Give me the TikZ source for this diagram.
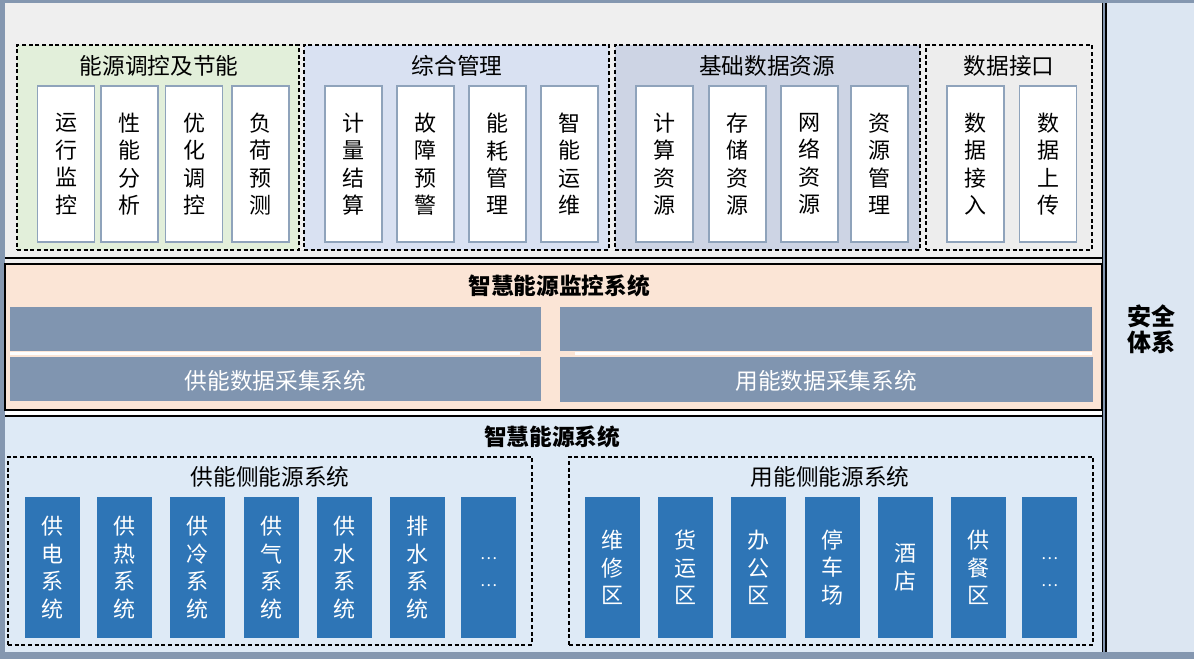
\documentclass[tikz,border=0pt]{standalone}
\usepackage{fontspec}
\setmainfont{Noto Sans CJK SC}
\definecolor{outerc}{HTML}{8497B0}
\definecolor{topbg}{HTML}{EFEFEF}
\definecolor{gA}{HTML}{E2EFDA}
\definecolor{gB}{HTML}{D9E1F2}
\definecolor{gC}{HTML}{CDD4E4}
\definecolor{gD}{HTML}{EDEDED}
\definecolor{wbd}{HTML}{8FA3BB}
\definecolor{peach}{HTML}{FBE5D6}
\definecolor{barc}{HTML}{8095B0}
\definecolor{blueband}{HTML}{DEEAF6}
\definecolor{bbox}{HTML}{2E75B6}
\definecolor{rpanel}{HTML}{DCE6F2}
\tikzset{
  grp/.style={draw=black, line width=0.8pt, dash pattern=on 3pt off 2pt, inner sep=0pt},
  gtitle/.style={font=\fontsize{17pt}{20pt}\selectfont, inner sep=0pt},
  btitle/.style={font=\fontsize{17pt}{20pt}\selectfont\bfseries, inner sep=0pt},
  wbox/.style={draw=wbd, line width=1.2pt, fill=white, minimum width=42.75pt, minimum height=117pt, inner sep=0pt, align=center, font=\fontsize{16.5pt}{20.6pt}\selectfont},
  bbx/.style={fill=bbox, text=white, minimum width=41.25pt, minimum height=105.75pt, inner sep=0pt, align=center, font=\fontsize{16.5pt}{20.6pt}\selectfont},
  dots/.style={text=white, inner sep=0pt, align=center, font=\fontsize{12pt}{20.5pt}\selectfont},
  barlab/.style={text=white, font=\fontsize{17pt}{20pt}\selectfont, inner sep=0pt}
}
\begin{document}
\begin{tikzpicture}[x=0.75pt,y=-0.75pt]
\useasboundingbox (0,0) rectangle (1194,659);
% background
\fill[outerc] (0,0) rectangle (1194,659);
\fill[topbg] (5,3) rectangle (1102,652);
\fill[white] (5,410) rectangle (1102,416);
\fill[rpanel] (1107,3) rectangle (1194,652);
% top panel lower border
\draw[black, line width=1pt] (5,258) -- (1102,258);
% middle band
\draw[black, line width=1pt, fill=peach] (5,264) rectangle (1102,410);
% bottom band
\fill[blueband] (5,416) rectangle (1102,652);
\draw[black, line width=1pt] (5,416) -- (1102,416);
% vertical double line
\draw[black, line width=1pt] (1102.5,3) -- (1102.5,652);
\draw[black, line width=1pt] (1106,3) -- (1106,652);

% ===== top groups =====
\node[grp, fill=gA, minimum width=211.5pt, minimum height=153.75pt] (g1) at (158,147.5) {};
\node[grp, fill=gB, minimum width=228.75pt, minimum height=153.75pt] (g2) at (456.5,147.5) {};
\node[grp, fill=gC, minimum width=228.75pt, minimum height=153.75pt] (g3) at (767.5,147.5) {};
\node[grp, fill=gD, minimum width=124.5pt, minimum height=153.75pt] (g4) at (1009,147.5) {};
\node[gtitle] (t1) at (159,66) {能源调控及节能};
\node[gtitle] (t2) at (457,66) {综合管理};
\node[gtitle] (t3) at (767,66) {基础数据资源};
\node[gtitle] (t4) at (1009,66) {数据接口};

\node[wbox] (a1) at (66,164) {运\\行\\监\\控};
\node[wbox] (a2) at (129.5,164) {性\\能\\分\\析};
\node[wbox] (a3) at (194,164) {优\\化\\调\\控};
\node[wbox] (a4) at (260.5,164) {负\\荷\\预\\测};

\node[wbox] (b1) at (353.5,164) {计\\量\\结\\算};
\node[wbox] (b2) at (425.5,164) {故\\障\\预\\警};
\node[wbox] (b3) at (497.5,164) {能\\耗\\管\\理};
\node[wbox] (b4) at (569.5,164) {智\\能\\运\\维};

\node[wbox] (c1) at (664.5,164) {计\\算\\资\\源};
\node[wbox] (c2) at (737.5,164) {存\\储\\资\\源};
\node[wbox] (c3) at (809.5,164) {网\\络\\资\\源};
\node[wbox] (c4) at (879.5,164) {资\\源\\管\\理};

\node[wbox] (d1) at (975.5,164) {数\\据\\接\\入};
\node[wbox] (d2) at (1048,164) {数\\据\\上\\传};

% ===== middle band =====
\node[btitle] (mt) at (559,286) {智慧能源监控系统};
\fill[barc] (10,307) rectangle (541,351);
\fill[barc] (10,357) rectangle (541,401);
\fill[white] (10,351.5) rectangle (520,355);
\fill[barc] (560,307) rectangle (1092,351);
\fill[barc] (560,357) rectangle (1093,402);
\fill[white] (575,351.5) rectangle (1092,355);
\node[barlab] (ml) at (275.5,381) {供能数据采集系统};
\node[barlab] (mr) at (826,381) {用能数据采集系统};

% ===== bottom band =====
\node[btitle] (bt) at (552,437) {智慧能源系统};
\node[grp, minimum width=393pt, minimum height=141pt] (sl) at (270,551) {};
\node[grp, minimum width=393pt, minimum height=141pt] (sr) at (831,551) {};
\node[gtitle] (slt) at (270,477) {供能侧能源系统};
\node[gtitle] (srt) at (830,477) {用能侧能源系统};

\node[bbx] (e1) at (52,567.5) {供\\电\\系\\统};
\node[bbx] (e2) at (124.5,567.5) {供\\热\\系\\统};
\node[bbx] (e3) at (197.5,567.5) {供\\冷\\系\\统};
\node[bbx] (e4) at (271,567.5) {供\\气\\系\\统};
\node[bbx] (e5) at (344,567.5) {供\\水\\系\\统};
\node[bbx] (e6) at (417,567.5) {排\\水\\系\\统};
\node[bbx] (e7) at (488.5,567.5) {};
\node[dots] (e7t) at (488.5,572) {…\\…};

\node[bbx] (f1) at (612.5,567.5) {维\\修\\区};
\node[bbx] (f2) at (685.5,567.5) {货\\运\\区};
\node[bbx] (f3) at (758.5,567.5) {办\\公\\区};
\node[bbx] (f4) at (832,567.5) {停\\车\\场};
\node[bbx] (f5) at (905,567.5) {酒\\店};
\node[bbx] (f6) at (978.5,567.5) {供\\餐\\区};
\node[bbx] (f7) at (1049.5,567.5) {};
\node[dots] (f7t) at (1049.5,572) {…\\…};

% ===== right panel =====
\node[inner sep=0pt, align=center, font=\fontsize{18pt}{19.5pt}\selectfont\bfseries] (sec) at (1151,329) {安全\\体系};
\end{tikzpicture}
\end{document}
